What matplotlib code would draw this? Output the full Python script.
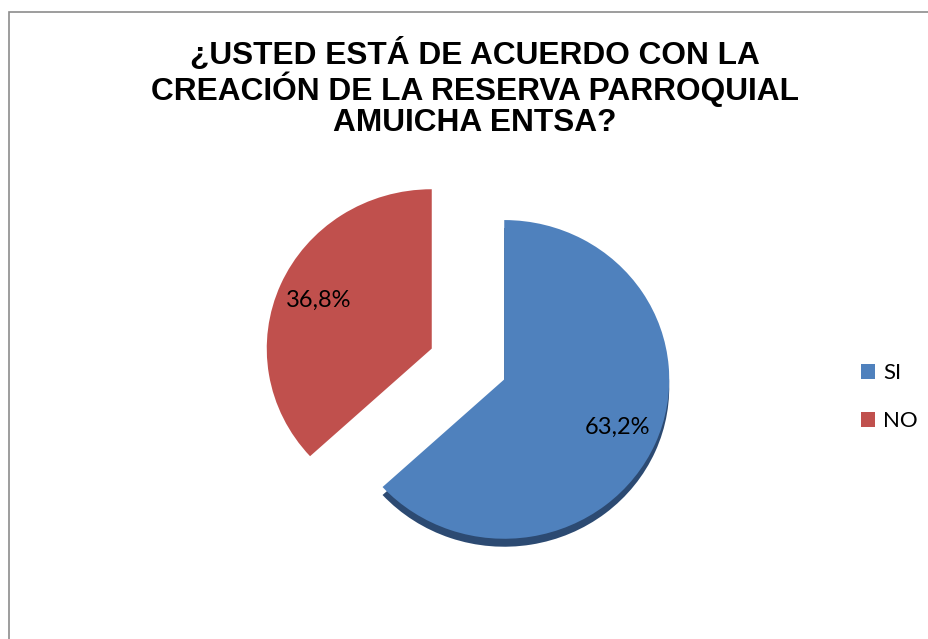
import numpy as np
import matplotlib; matplotlib.use('Agg')
import matplotlib.pyplot as plt
from matplotlib.patches import Rectangle

labels = ["SI", "NO"]
pct = [63.2, 36.8]
BLUE = "#4F81BD"; RED = "#C0504D"; BLUE_DK = "#2C4A72"
title = "¿USTED ESTÁ DE ACUERDO CON LA\nCREACIÓN DE LA RESERVA PARROQUIAL\nAMUICHA ENTSA?"

W, H = 929, 639
fig = plt.figure(figsize=(W/100, H/100), dpi=100)
fig.patch.set_facecolor("white")

# chart border (right/bottom edges are cut off in the original)
fig.patches.append(Rectangle((9/W, -0.05), 1.2, 1 - 12/H + 0.05, transform=fig.transFigure,
                             fill=False, edgecolor="#8c8c8c", lw=1.2))

fig.text(475/W, 1 - 88/H, title, ha="center", va="center", fontsize=22.8, weight="bold",
         family="Liberation Sans", linespacing=1.04)

# pie axes: 165 px per unit in x, ~159 px per unit in y (slight 3D squash)
cx, cy = 468, 364
ax = fig.add_axes([(cx-330)/W, (H-cy-247)/H, 660/W, 494/H])

fmt = lambda p: f"{p:.1f}%".replace(".", ",")
ex = [0.24, 0.24]
# thickness layer under the blue slice for the 3D look
ax.pie(pct, colors=[BLUE_DK, "none"], explode=ex, startangle=90, counterclock=False,
       center=(0.0, -0.05), radius=1.0, frame=True, wedgeprops=dict(lw=0))
wedges, _, autotexts = ax.pie(pct, colors=[BLUE, RED], explode=ex, startangle=90,
                              counterclock=False, autopct=fmt, pctdistance=0.75,
                              radius=1.0, frame=True, wedgeprops=dict(lw=0),
                              textprops=dict(fontsize=17, family="Lato", color="black"))
ax.set_aspect("auto")
ax.set_xlim(-2, 2); ax.set_ylim(-1.55, 1.55); ax.axis("off")

fig.legend(wedges, labels, loc="center left", bbox_to_anchor=(861/W, 1 - 397/H), frameon=False,
           handlelength=0.65, handleheight=0.65, handletextpad=0.35, labelspacing=1.25,
           borderpad=0, borderaxespad=0, prop=dict(family="Lato", size=16))

plt.savefig("out.png", dpi=100)
